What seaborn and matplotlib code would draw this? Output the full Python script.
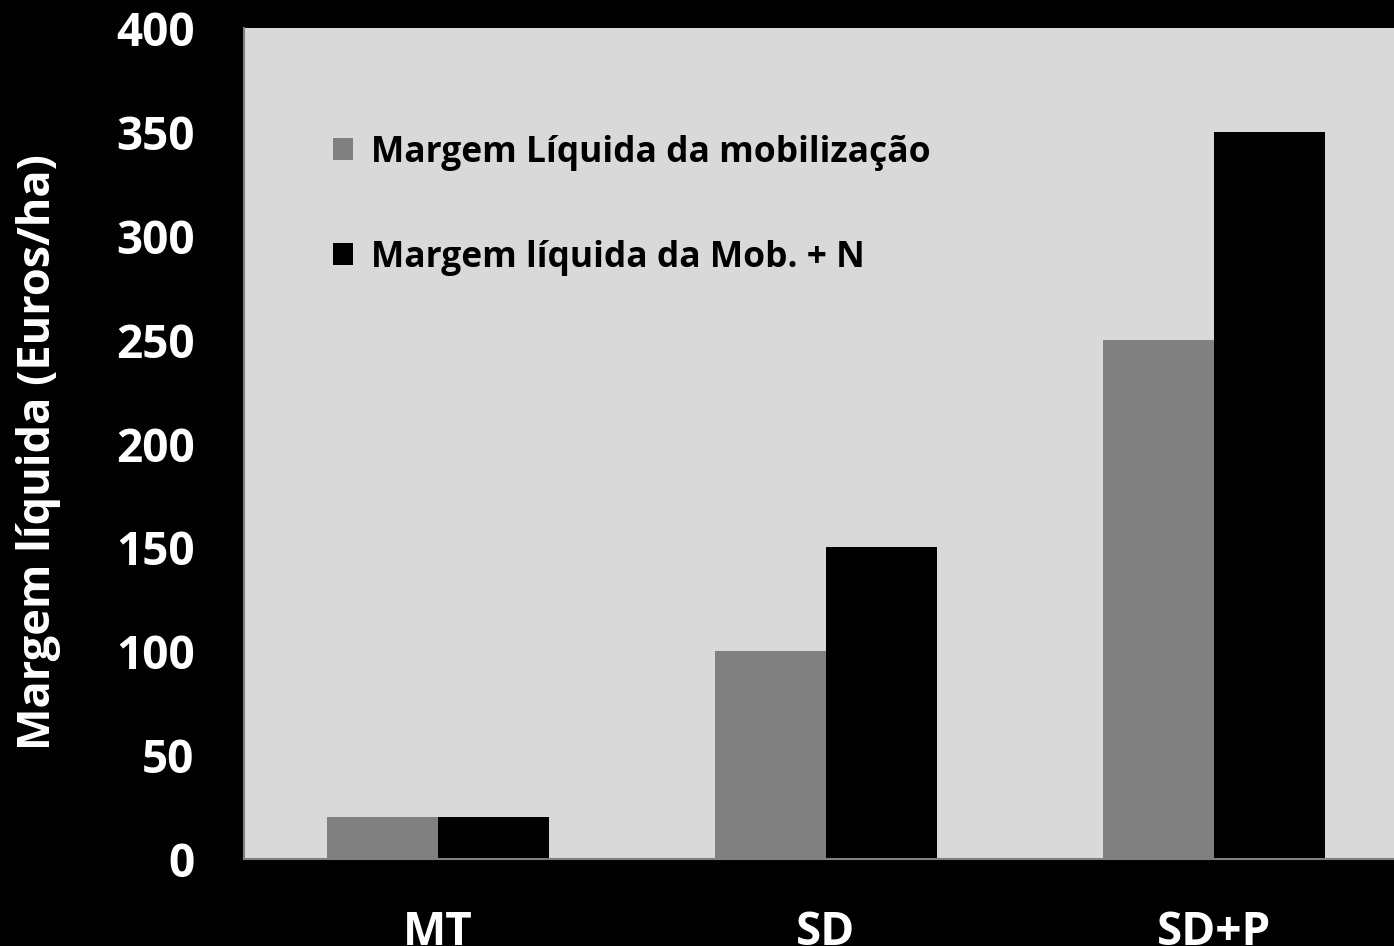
import matplotlib
matplotlib.use("Agg")
import matplotlib.pyplot as plt
import pandas as pd
import seaborn as sns

# data
categories = ["MT", "SD", "SD+P"]
series_names = ["Margem Líquida da mobilização", "Margem líquida da Mob. + N"]
margem_mob = [20, 100, 250]
margem_mob_n = [20, 150, 350]
yticks = [0, 50, 100, 150, 200, 250, 300, 350, 400]

df = pd.DataFrame({
    "categoria": categories * 2,
    "serie": [series_names[0]] * 3 + [series_names[1]] * 3,
    "valor": margem_mob + margem_mob_n,
})

sns.set_style("white")
plt.rcParams['font.family'] = ['Open Sans', 'DejaVu Sans']
plt.rcParams['font.weight'] = 'bold'

fig = plt.figure(figsize=(13.94, 9.46), dpi=100, facecolor="black")
ax = fig.add_axes([0.175, 0.092, 0.835, 0.878])
ax.set_facecolor("#d9d9d9")

sns.barplot(data=df, x="categoria", y="valor", hue="serie", order=categories,
            hue_order=series_names, palette=["#808080", "#000000"],
            width=0.57, saturation=1, edgecolor="none", linewidth=0, ax=ax)

ax.set_xlim(-0.5, 2.5)
ax.set_ylim(0, 400)
ax.set_yticks(yticks)
ax.set_yticklabels([str(t) for t in yticks], fontsize=33, fontweight="bold", color="white")

ax.set_xticks(range(len(categories)))
ax.set_xticklabels(categories, fontsize=33, fontweight="bold", color="white")
ax.set_xticks([-0.5, 0.5, 1.5], minor=True)
ax.tick_params(axis="x", which="major", length=0, pad=36)
ax.tick_params(axis="x", which="minor", length=11, width=1.5, color="#808080", direction="out")
ax.tick_params(axis="y", length=10.5, width=1.5, color="#808080", direction="out", pad=25)

for side in ["top", "right"]:
    ax.spines[side].set_visible(False)
for side in ["left", "bottom"]:
    ax.spines[side].set_color("#808080")
    ax.spines[side].set_linewidth(1.5)

ax.set_xlabel("")
ax.set_ylabel("Margem líquida (Euros/ha)", fontsize=32.5, fontweight="bold", color="white")
ax.yaxis.set_label_coords(-0.157, 0.49)

leg = ax.legend(loc="upper left", bbox_to_anchor=(0.0765, 0.872), frameon=False,
                fontsize=25.5, handlelength=0.57, handleheight=0.57, handletextpad=0.5,
                labelspacing=1.95, borderaxespad=0, borderpad=0)
for t in leg.get_texts():
    t.set_fontweight("bold")
    t.set_color("black")

fig.savefig("out.png", dpi=100, facecolor="black")
